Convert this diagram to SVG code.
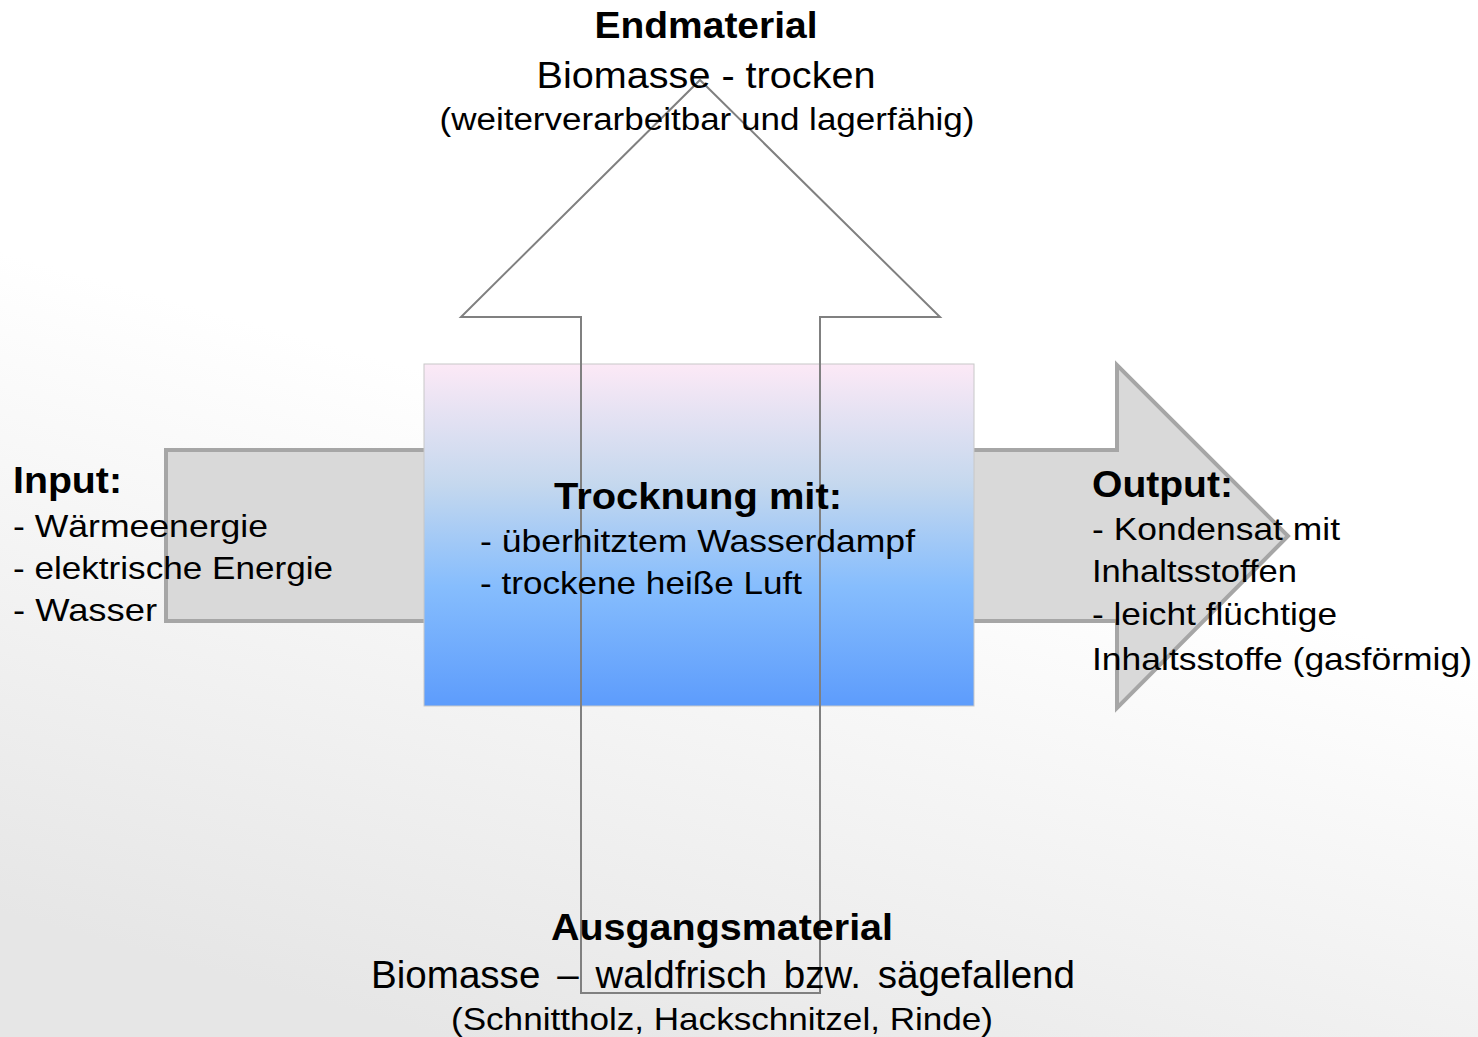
<svg xmlns="http://www.w3.org/2000/svg" width="1478" height="1037" viewBox="0 0 1478 1037">
<defs>
<linearGradient id="bg" x1="0.7" y1="0" x2="0.3" y2="1">
<stop offset="0" stop-color="#ffffff"/>
<stop offset="0.45" stop-color="#ffffff"/>
<stop offset="1" stop-color="#e6e6e6"/>
</linearGradient>
<linearGradient id="boxg" x1="0" y1="0" x2="0" y2="1">
<stop offset="0" stop-color="#fce9f6"/>
<stop offset="0.35" stop-color="#c5d8ee"/>
<stop offset="0.65" stop-color="#86bdfd"/>
<stop offset="1" stop-color="#5d9cfc"/>
</linearGradient>
<style>
text{font-family:"Liberation Sans",Arial,sans-serif;fill:#000}
.b{font-weight:bold}
.arr{fill:#d9d9d9;stroke:#a6a6a6;stroke-width:4}
.up{fill:none;stroke:#808080;stroke-width:2}
</style>
</defs>
<rect x="0" y="0" width="1478" height="1037" fill="url(#bg)"/>
<g id="flow-arrow">
<path class="arr" d="M166,450 L1117,450 L1117,365 L1288,536 L1117,708 L1117,621 L166,621 Z"/>
</g>
<g id="process-box">
<rect x="424" y="364" width="550" height="342" fill="url(#boxg)" stroke="#c8c8c8" stroke-width="1"/>
</g>
<g id="connectors">
<path class="up" d="M581,993 L581,317 L461,317 L700,80 L940,317 L820,317 L820,993 Z"/>
</g>
<g id="endmaterial">
<text class="b" x="706" y="38" font-size="36" text-anchor="middle" textLength="223" lengthAdjust="spacingAndGlyphs">Endmaterial</text>
<text x="706" y="88" font-size="37" text-anchor="middle" textLength="339" lengthAdjust="spacingAndGlyphs">Biomasse  - trocken</text>
<text x="707" y="130" font-size="31" text-anchor="middle" textLength="535" lengthAdjust="spacingAndGlyphs">(weiterverarbeitbar und lagerfähig)</text>
</g>
<g id="input">
<text class="b" x="13" y="493" font-size="36" textLength="109" lengthAdjust="spacingAndGlyphs">Input:</text>
<text x="13" y="537" font-size="32" textLength="255" lengthAdjust="spacingAndGlyphs">- Wärmeenergie</text>
<text x="13" y="579" font-size="32" textLength="320" lengthAdjust="spacingAndGlyphs">- elektrische Energie</text>
<text x="13" y="621" font-size="32" textLength="144" lengthAdjust="spacingAndGlyphs">- Wasser</text>
</g>
<g id="trocknung">
<text class="b" x="698" y="509" font-size="37" text-anchor="middle" textLength="288" lengthAdjust="spacingAndGlyphs">Trocknung mit:</text>
<text x="480" y="552" font-size="32" textLength="435" lengthAdjust="spacingAndGlyphs">- überhitztem Wasserdampf</text>
<text x="480" y="594" font-size="32" textLength="322" lengthAdjust="spacingAndGlyphs">- trockene heiße Luft</text>
</g>
<g id="output">
<text class="b" x="1092" y="497" font-size="36" textLength="141" lengthAdjust="spacingAndGlyphs">Output:</text>
<text x="1092" y="540" font-size="32" textLength="248" lengthAdjust="spacingAndGlyphs">- Kondensat mit</text>
<text x="1092" y="582" font-size="32" textLength="205" lengthAdjust="spacingAndGlyphs">Inhaltsstoffen</text>
<text x="1092" y="625" font-size="32" textLength="245" lengthAdjust="spacingAndGlyphs">- leicht flüchtige</text>
<text x="1092" y="670" font-size="32" textLength="380" lengthAdjust="spacingAndGlyphs">Inhaltsstoffe (gasförmig)</text>
</g>
<g id="ausgangsmaterial">
<text class="b" x="722" y="940" font-size="37" text-anchor="middle" textLength="342" lengthAdjust="spacingAndGlyphs">Ausgangsmaterial</text>
<text x="723" y="988" font-size="38" text-anchor="middle" word-spacing="6" textLength="704" lengthAdjust="spacingAndGlyphs">Biomasse – waldfrisch bzw. sägefallend</text>
<text x="722" y="1030" font-size="32" text-anchor="middle" textLength="542" lengthAdjust="spacingAndGlyphs">(Schnittholz, Hackschnitzel, Rinde)</text>
</g>
</svg>
